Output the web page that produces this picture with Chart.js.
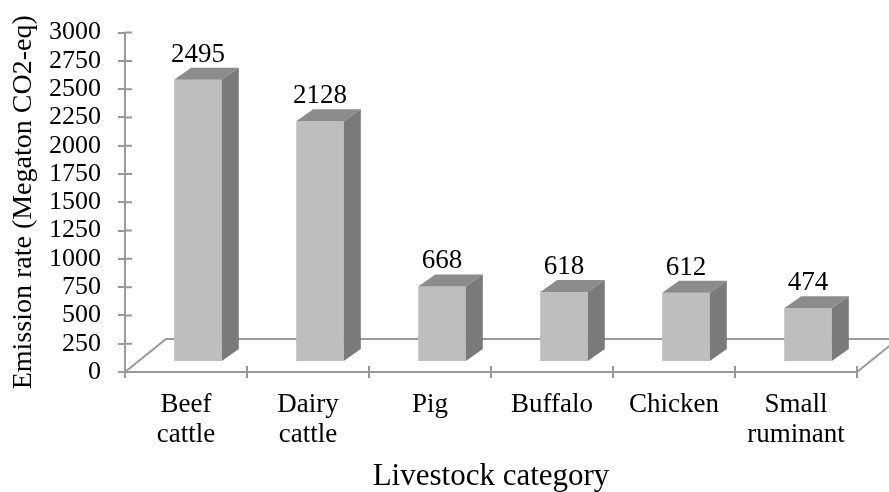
<!DOCTYPE html>
<html>
<head>
<meta charset="utf-8">
<script src="https://cdn.jsdelivr.net/npm/chart.js@4.4.0/dist/chart.umd.min.js"></script>
<style>
    html, body { margin: 0; padding: 0; background: #fff; }
    #wrap { width: 889px; height: 492px; }
</style>
</head>
<body>
<div id="wrap"><canvas id="emissionChart"></canvas></div>
<script>
// Livestock emission chart (pseudo 3D bars)

const categories = [['Beef', 'cattle'], ['Dairy', 'cattle'], 'Pig', 'Buffalo', 'Chicken', ['Small', 'ruminant']];
const emissions = [2495, 2128, 668, 618, 612, 474];
const yTicks = [0, 250, 500, 750, 1000, 1250, 1500, 1750, 2000, 2250, 2500, 2750, 3000];

const FONT = "'Liberation Serif', 'Times New Roman', serif";
const LINE = '#9a9a9a';
const FRONT = '#bebebe';
const TOP = '#8c8c8c';
const SIDE = '#7a7a7a';

// bars sit a bit back in the floor, and have their own depth
const shift = { x: 12, y: -10 };
const barDepth = { x: 17, y: -12 };
const floorDepth = { x: 41, y: -33 };

const depthPlugin = {
    id: 'depth',
    beforeDatasetsDraw(chart) {
        const ctx = chart.ctx;
        const area = chart.chartArea;
        const ys = chart.scales.y;
        ctx.save();
        ctx.strokeStyle = LINE;
        ctx.lineWidth = 2;
        // floor outline
        ctx.beginPath();
        ctx.moveTo(area.left, area.bottom);
        ctx.lineTo(area.left + floorDepth.x, area.bottom + floorDepth.y);
        ctx.lineTo(area.right + floorDepth.x, area.bottom + floorDepth.y);
        ctx.lineTo(area.right, area.bottom);
        ctx.stroke();
        // inner halves of the tick marks
        ctx.beginPath();
        ys.ticks.forEach((t, i) => {
            const y = ys.getPixelForTick(i);
            ctx.moveTo(area.left, y);
            ctx.lineTo(area.left + 7, y);
        });
        for (let i = 0; i <= categories.length; i++) {
            const x = area.left + (area.right - area.left) * i / categories.length;
            ctx.moveTo(x, area.bottom);
            ctx.lineTo(x, area.bottom - 6);
        }
        ctx.stroke();
        ctx.restore();

        ctx.save();
        ctx.translate(shift.x, shift.y);
    },
    afterDatasetsDraw(chart) {
        const ctx = chart.ctx;
        const meta = chart.getDatasetMeta(0);
        meta.data.forEach((bar, i) => {
            const p = bar.getProps(['x', 'y', 'base', 'width'], true);
            const l = p.x - p.width / 2;
            const r = p.x + p.width / 2;
            // top face
            ctx.fillStyle = TOP;
            ctx.beginPath();
            ctx.moveTo(l, p.y);
            ctx.lineTo(l + barDepth.x, p.y + barDepth.y);
            ctx.lineTo(r + barDepth.x, p.y + barDepth.y);
            ctx.lineTo(r, p.y);
            ctx.closePath();
            ctx.fill();
            // side face
            ctx.fillStyle = SIDE;
            ctx.beginPath();
            ctx.moveTo(r, p.y);
            ctx.lineTo(r + barDepth.x, p.y + barDepth.y);
            ctx.lineTo(r + barDepth.x, p.base + barDepth.y);
            ctx.lineTo(r, p.base);
            ctx.closePath();
            ctx.fill();
            // value label
            ctx.fillStyle = '#000';
            ctx.font = '27px ' + FONT;
            ctx.textAlign = 'center';
            ctx.textBaseline = 'alphabetic';
            ctx.fillText(String(emissions[i]), p.x, p.y - 18);
        });
        ctx.restore();
    }
};

function renderChart() {
    const ctx = document.getElementById('emissionChart').getContext('2d');
    new Chart(ctx, {
        type: 'bar',
        data: {
            labels: categories,
            datasets: [{
                data: emissions,
                backgroundColor: FRONT,
                borderWidth: 0,
                barPercentage: 1,
                categoryPercentage: 0.39,
                clip: false
            }]
        },
        options: {
            responsive: true,
            maintainAspectRatio: false,
            animation: false,
            layout: { padding: { top: 32, right: 32, left: 0, bottom: 0 } },
            plugins: {
                legend: { display: false },
                tooltip: { enabled: false }
            },
            scales: {
                x: {
                    offset: true,
                    grid: {
                        offset: true,
                        drawOnChartArea: false,
                        drawTicks: true,
                        tickLength: 6,
                        color: LINE,
                        lineWidth: 2
                    },
                    border: { color: LINE, width: 2 },
                    ticks: {
                        color: '#000',
                        padding: 12,
                        maxRotation: 0,
                        font: { family: FONT, size: 27, lineHeight: 1.1 }
                    },
                    title: {
                        display: true,
                        text: 'Livestock category',
                        color: '#000',
                        font: { family: FONT, size: 31, lineHeight: 1 },
                        padding: { top: 0, bottom: 0 }
                    },
                    afterFit(scale) { scale.height = 120; }
                },
                y: {
                    min: 0,
                    max: 3000,
                    afterBuildTicks(scale) {
                        scale.ticks = yTicks.map(v => ({ value: v }));
                    },
                    grid: {
                        drawOnChartArea: false,
                        drawTicks: true,
                        tickLength: 7,
                        color: LINE,
                        lineWidth: 2
                    },
                    border: { color: LINE, width: 2 },
                    ticks: {
                        color: '#000',
                        padding: 17,
                        autoSkip: false,
                        callback: v => String(v),
                        font: { family: FONT, size: 26 }
                    },
                    title: {
                        display: true,
                        text: 'Emission rate (Megaton CO2-eq)',
                        color: '#000',
                        font: { family: FONT, size: 28, lineHeight: 1 },
                        padding: { top: 10, bottom: 0 }
                    },
                    afterFit(scale) { scale.width = 125; }
                }
            }
        },
        plugins: [depthPlugin]
    });
}

document.addEventListener('DOMContentLoaded', () => {
    renderChart();
});
</script>
</body>
</html>
